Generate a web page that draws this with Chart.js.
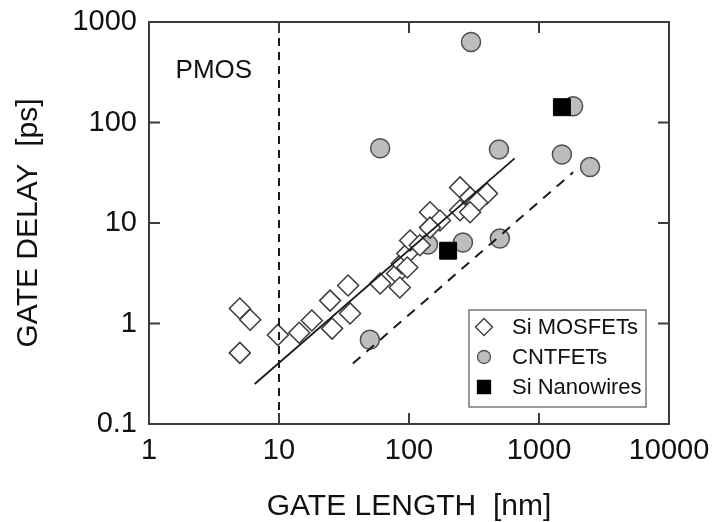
<!DOCTYPE html>
<html>
<head>
<meta charset="utf-8">
<script src="https://cdn.jsdelivr.net/npm/chart.js@4.4.0/dist/chart.umd.min.js"></script>
<style>
html,body{margin:0;padding:0;background:#ffffff;}
#wrap{width:713px;height:522px;}
</style>
</head>
<body>
<div id="wrap"><canvas id="c" width="713" height="522"></canvas></div>
<script>
// ---- data ----
const xTicks = [1, 10, 100, 1000, 10000];
const yTicks = [0.1, 1, 10, 100, 1000];

const siMosfetX = [5.0, 6.0, 5.0, 9.8, 14.3, 17.9, 24.7, 25.6, 34, 35.2, 60, 81, 85, 88, 97, 97, 102, 121, 145, 173, 145, 247, 295, 398, 334, 247, 295];
const siMosfetY = [1.41, 1.09, 0.51, 0.77, 0.81, 1.07, 1.69, 0.89, 2.39, 1.26, 2.5, 3.14, 2.28, 3.96, 4.98, 3.61, 6.7, 6.0, 12.8, 10.6, 9.0, 22.6, 18, 19.7, 16, 13.4, 12.8];

const cntfetX = [60, 300, 492, 1500, 2470, 1830, 260, 500, 50, 140];
const cntfetY = [55.5, 632, 54, 48, 36, 145, 6.4, 7.0, 0.69, 6.1];

const nanowireX = [1500, 200];
const nanowireY = [142, 5.3];

const fitSolidX = [6.5, 650];
const fitSolidY = [0.25, 44];
const fitDashX = [37, 1830];
const fitDashY = [0.4, 32];
const limitX = [10, 10];
const limitY = [0.1, 1000];

const seriesLabels = ['Si MOSFETs', 'CNTFETs', 'Si Nanowires'];
const pmosLabel = 'PMOS';
const pmosAt = {x: 1.6, y: 280};
const xTitle = 'GATE LENGTH  [nm]';
const yTitle = 'GATE DELAY  [ps]';

const pts = (xs, ys) => xs.map((x, i) => ({x: x, y: ys[i]}));
const FAMILY = '"Liberation Sans", Arial, Helvetica, sans-serif';

const styles = [
  {shape: 'rectRot', fill: '#ffffff', stroke: '#3a3a3a'},
  {shape: 'circle', fill: '#bdbdbd', stroke: '#505050'},
  {shape: 'rect', fill: '#000000', stroke: '#000000'}
];

function drawMarker(ctx, shape, x, y, r, fill, stroke, lw) {
  ctx.save();
  ctx.fillStyle = fill; ctx.strokeStyle = stroke; ctx.lineWidth = lw;
  ctx.beginPath();
  if (shape === 'rectRot') {
    ctx.moveTo(x - r, y); ctx.lineTo(x, y - r); ctx.lineTo(x + r, y); ctx.lineTo(x, y + r); ctx.closePath();
  } else if (shape === 'circle') {
    ctx.arc(x, y, r, 0, Math.PI * 2);
  } else {
    ctx.rect(x - r, y - r, 2 * r, 2 * r);
  }
  ctx.fill(); ctx.stroke();
  ctx.restore();
}

const deco = {
  id: 'deco',
  afterDraw(chart) {
    const ctx = chart.ctx, a = chart.chartArea;
    const xs = chart.scales.x, ys = chart.scales.y;
    ctx.save();
    // frame
    ctx.strokeStyle = '#3c3c3c';
    ctx.lineWidth = 2;
    ctx.strokeRect(a.left, a.top, a.right - a.left, a.bottom - a.top);
    // inward tick marks on all four sides
    const L = 11;
    ctx.beginPath();
    xTicks.forEach(v => {
      const p = xs.getPixelForValue(v);
      if (p > a.left + 1 && p < a.right - 1) {
        ctx.moveTo(p, a.bottom); ctx.lineTo(p, a.bottom - L);
        ctx.moveTo(p, a.top); ctx.lineTo(p, a.top + L);
      }
    });
    yTicks.forEach(v => {
      const p = ys.getPixelForValue(v);
      if (p > a.top + 1 && p < a.bottom - 1) {
        ctx.moveTo(a.left, p); ctx.lineTo(a.left + L, p);
        ctx.moveTo(a.right, p); ctx.lineTo(a.right - L, p);
      }
    });
    ctx.stroke();

    // PMOS label
    ctx.fillStyle = '#111';
    ctx.font = '26px ' + FAMILY;
    ctx.textBaseline = 'alphabetic';
    ctx.textAlign = 'left';
    ctx.fillText(pmosLabel, xs.getPixelForValue(pmosAt.x), ys.getPixelForValue(pmosAt.y));

    // legend box
    const bw = 177, bh = 97;
    const bx = a.right - 200, by = a.bottom - 114;
    ctx.fillStyle = '#ffffff';
    ctx.fillRect(bx, by, bw, bh);
    ctx.strokeStyle = '#555';
    ctx.lineWidth = 1.2;
    ctx.strokeRect(bx, by, bw, bh);
    const sizes = [8.5, 6.5, 6.5];
    seriesLabels.forEach((lab, i) => {
      const cy = by + 17 + i * 30;
      const st = styles[i];
      drawMarker(ctx, st.shape, bx + 15, cy, sizes[i], st.fill, st.stroke, 1.3);
      ctx.fillStyle = '#111';
      ctx.font = '22px ' + FAMILY;
      ctx.textBaseline = 'middle';
      ctx.fillText(lab, bx + 43, cy + 1);
    });
    ctx.restore();
  }
};

const lineDs = (xs, ys, dash, w, lbl) => ({
  label: lbl, type: 'line', data: pts(xs, ys), showLine: true,
  borderColor: '#1a1a1a', borderWidth: w, borderDash: dash,
  pointRadius: 0, fill: false, tension: 0, order: 1
});

new Chart(document.getElementById('c'), {
  type: 'scatter',
  data: {
    datasets: [
      {label: seriesLabels[0], data: pts(siMosfetX, siMosfetY), pointStyle: 'rectRot', pointRadius: 10.5,
       backgroundColor: styles[0].fill, borderColor: styles[0].stroke, borderWidth: 1.5, order: 3},
      {label: seriesLabels[1], data: pts(cntfetX, cntfetY), pointStyle: 'circle', pointRadius: 9.5,
       backgroundColor: styles[1].fill, borderColor: styles[1].stroke, borderWidth: 1.5, order: 4},
      {label: seriesLabels[2], data: pts(nanowireX, nanowireY), pointStyle: 'rect', pointRadius: 12,
       backgroundColor: styles[2].fill, borderColor: styles[2].stroke, borderWidth: 1, order: 2},
      lineDs(fitSolidX, fitSolidY, [], 1.8, 'Si fit'),
      lineDs(fitDashX, fitDashY, [10, 8], 2, 'CNT fit'),
      lineDs(limitX, limitY, [8, 6], 2, '10 nm')
    ]
  },
  options: {
    responsive: false,
    devicePixelRatio: 1,
    animation: false,
    layout: {padding: {left: 14, right: 44, top: 22, bottom: 0}},
    plugins: {
      legend: {display: false},
      tooltip: {enabled: false}
    },
    scales: {
      x: {
        type: 'logarithmic', position: 'bottom', min: 1, max: 10000,
        afterBuildTicks: s => { s.ticks = xTicks.map(v => ({value: v})); },
        afterFit: s => { s.height = 98; s.paddingLeft = 0; s.paddingRight = 0; },
        grid: {display: false, drawTicks: false},
        border: {display: false},
        title: {display: true, text: xTitle, color: '#111',
                font: {family: FAMILY, size: 30, lineHeight: 1}, padding: {top: 0, bottom: 0}},
        ticks: {autoSkip: false, maxRotation: 0, minRotation: 0, padding: 10, color: '#111',
                font: {family: FAMILY, size: 29}, callback: v => String(v)}
      },
      y: {
        type: 'logarithmic', position: 'left', min: 0.1, max: 1000,
        afterBuildTicks: s => { s.ticks = yTicks.map(v => ({value: v})); },
        afterFit: s => { s.width = 135; s.paddingTop = 0; s.paddingBottom = 0; },
        grid: {display: false, drawTicks: false},
        border: {display: false},
        title: {display: true, text: yTitle, color: '#111',
                font: {family: FAMILY, size: 30, lineHeight: 1}, padding: {top: 0, bottom: 0}},
        ticks: {autoSkip: false, padding: 12, color: '#111',
                font: {family: FAMILY, size: 29}, callback: v => String(v)}
      }
    }
  },
  plugins: [deco]
});
</script>
</body>
</html>
